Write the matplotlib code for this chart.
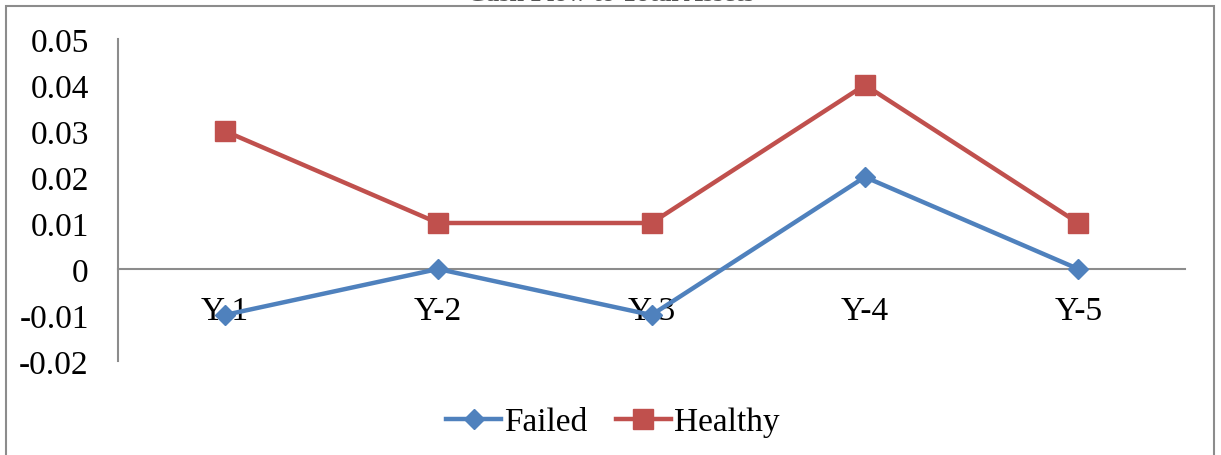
import matplotlib
matplotlib.use("Agg")

import matplotlib.pyplot as plt
from matplotlib.patches import Rectangle

# Ratio values per year for the two groups of firms
years = ["Y-1", "Y-2", "Y-3", "Y-4", "Y-5"]
failed = [-0.01, 0.0, -0.01, 0.02, 0.0]
healthy = [0.03, 0.01, 0.01, 0.04, 0.01]
y_ticks = [-0.02, -0.01, 0, 0.01, 0.02, 0.03, 0.04, 0.05]
y_tick_labels = ["-0.02", "-0.01", "0", "0.01", "0.02", "0.03", "0.04", "0.05"]

BLUE = "#4F81BD"
RED = "#C0504D"
GRID_GRAY = "#8C8C8C"

plt.rcParams["font.family"] = ["Liberation Serif", "DejaVu Serif"]

fig = plt.figure(figsize=(12.21, 4.56), dpi=100)
ax = fig.add_axes([118 / 1221, 1 - 362 / 456, 1067 / 1221, 322 / 456])

# Chart area border (runs past the bottom edge of the canvas)
fig.patches.append(Rectangle((6 / 1221, -0.05), 1208 / 1221, 1 - 7 / 456 + 0.05,
                             transform=fig.transFigure, fill=False,
                             edgecolor=GRID_GRAY, linewidth=1.5, zorder=0))

# Title sits at the very top edge, only its lowest pixels show
fig.text(0.5, 1 - 1 / 456, "Cash Flow to Total Assets", ha="center", va="baseline",
         fontsize=19, fontweight="bold", color="#555555")

x = list(range(len(years)))
ax.plot(x, failed, color=BLUE, linewidth=3.2, marker="D", markersize=10.5,
        label="Failed", zorder=3, clip_on=False)
ax.plot(x, healthy, color=RED, linewidth=3.2, marker="s", markersize=14.5,
        label="Healthy", zorder=3, clip_on=False)

ax.set_xlim(-0.5, len(years) - 0.5)
ax.set_ylim(-0.02, 0.05)
ax.set_yticks(y_ticks)
ax.set_yticklabels(y_tick_labels)
ax.set_xticks(x)
ax.set_xticklabels(years)

ax.spines["top"].set_visible(False)
ax.spines["right"].set_visible(False)
ax.spines["bottom"].set_position(("data", 0))
for side in ("left", "bottom"):
    ax.spines[side].set_color(GRID_GRAY)
    ax.spines[side].set_linewidth(1.5)
    ax.spines[side].set_zorder(1)

ax.tick_params(axis="y", length=0, pad=21, labelsize=24)
ax.tick_params(axis="x", length=0, pad=19, labelsize=24)

ax.legend(loc="center", bbox_to_anchor=(613 / 1221, 1 - 423 / 456),
          bbox_transform=fig.transFigure, ncol=2, frameon=False, fontsize=24,
          handlelength=1.65, handletextpad=0.1, columnspacing=0.85)

fig.savefig("out.png", dpi=100)
